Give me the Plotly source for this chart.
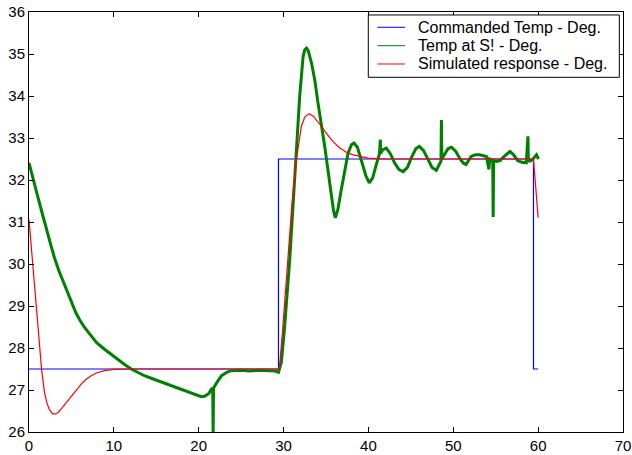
import plotly.graph_objects as go

# Commanded temperature (step profile)
cmd_x = [0, 29.4, 29.4, 59.45, 59.45, 60.0]
cmd_y = [27.5, 27.5, 32.5, 32.5, 27.5, 27.5]

# Measured temperature at S!
meas_x = [0.0, 0.5, 1.0, 1.5, 2.0, 2.6, 3.0, 3.5, 4.2, 5.0, 5.5, 5.95, 6.5, 7.33, 8.0, 8.9,
          9.7, 10.5, 11.3, 12.05, 12.8, 13.6, 14.4, 15.2, 16.0, 16.8, 17.5, 18.3, 19.1,
          19.9, 20.3, 20.7, 21.2, 21.5, 21.65, 21.7, 21.75, 22.2, 22.7, 23.3, 23.8, 25.0, 26.0,
          27.0, 28.0, 29.0, 29.4, 29.74, 30.1, 30.7, 31.3, 31.9, 32.3, 32.5, 32.7, 32.9,
          33.3, 33.7, 34.06, 34.85, 35.6, 35.9, 36.1, 36.4, 36.8, 37.2, 37.6, 38.0, 38.3,
          38.7, 39.2, 39.7, 40.1, 40.5, 40.9, 41.3, 41.4, 41.45, 41.7, 42.1, 42.6, 43.1,
          43.6, 44.1, 44.6, 45.1, 45.6, 46.0, 46.5, 47.0, 47.5, 48.0, 48.3, 48.55, 48.6,
          48.65, 49.0, 49.4, 49.8, 50.3, 50.8, 51.2, 51.5, 52.1, 52.6, 53.1, 53.9, 54.2,
          54.3, 54.65, 54.7, 54.75, 55.1, 55.5, 56.1, 56.7, 57.1, 57.6, 58.1, 58.6, 58.8,
          58.85, 59.1, 59.4, 59.8, 60.05]
meas_y = [32.41, 32.05, 31.63, 31.25, 30.85, 30.43, 30.15, 29.85, 29.5, 29.1, 28.85, 28.68,
          28.5, 28.29, 28.12, 27.97, 27.84, 27.73, 27.6, 27.5, 27.42, 27.34, 27.28, 27.22,
          27.16, 27.1, 27.04, 26.98, 26.92, 26.86, 26.84, 26.85, 26.92, 27.02, 27.0, 26.0,
          27.05, 27.2, 27.34, 27.42, 27.46, 27.47, 27.45, 27.47, 27.46, 27.45, 27.42, 27.66,
          28.45, 30.03, 32.0, 33.99, 34.94, 35.1, 35.14, 35.08, 34.78, 34.35, 33.83, 32.8,
          31.69, 31.25, 31.1, 31.3, 31.77, 32.25, 32.64, 32.84, 32.88, 32.78, 32.45, 32.1,
          31.93, 32.05, 32.35, 32.62, 32.96, 32.64, 32.72, 32.76, 32.62, 32.4, 32.25, 32.2,
          32.3, 32.55, 32.75, 32.8, 32.7, 32.5, 32.3, 32.23, 32.35, 32.45, 33.43, 32.5,
          32.62, 32.75, 32.78, 32.68, 32.5, 32.4, 32.37, 32.56, 32.6, 32.6, 32.56, 32.25,
          32.5, 32.46, 31.12, 32.46, 32.44, 32.46, 32.58, 32.68, 32.6, 32.46, 32.42, 32.41,
          33.04, 32.45, 32.45, 32.5, 32.6, 32.5]

# Simulated response
sim_x = [0.0, 0.3, 0.65, 1.0, 1.24, 1.5, 1.83, 2.1, 2.4, 2.8, 3.1, 3.4, 3.8, 4.4, 5.0,
         5.6, 6.15, 6.7, 7.33, 8.0, 8.9, 10.0, 11.0, 12.0, 20.0, 29.5, 29.9, 30.5, 31.0,
         31.5, 32.1, 32.5, 33.0, 33.5, 34.0, 34.45, 35.1, 35.8, 36.6, 37.4, 38.2, 39.0,
         40.0, 41.0, 42.0, 50.0, 59.45, 60.0]
sim_y = [31.06, 30.3, 29.56, 28.6, 27.97, 27.45, 26.94, 26.7, 26.53, 26.43, 26.43, 26.46,
         26.55, 26.7, 26.86, 27.01, 27.14, 27.25, 27.34, 27.41, 27.46, 27.49, 27.5, 27.5,
         27.5, 27.5, 28.45, 30.03, 31.46, 32.48, 33.28, 33.5, 33.58, 33.52, 33.4, 33.28,
         33.1, 32.92, 32.77, 32.66, 32.6, 32.56, 32.52, 32.51, 32.5, 32.5, 32.5, 31.1]

series_names = ["Commanded Temp - Deg.", "Temp at S! - Deg.", "Simulated response - Deg."]
series_colors = ["#0000FF", "#008000", "#FF0000"]

x_ticks = [0, 10, 20, 30, 40, 50, 60, 70]
y_ticks = [26, 27, 28, 29, 30, 31, 32, 33, 34, 35, 36]

fig = go.Figure()
fig.add_trace(go.Scatter(x=cmd_x, y=cmd_y, mode="lines", name=series_names[0],
                         line=dict(color=series_colors[0], width=1.2), showlegend=False))
fig.add_trace(go.Scatter(x=meas_x, y=meas_y, mode="lines", name=series_names[1],
                         line=dict(color=series_colors[1], width=3), showlegend=False))
fig.add_trace(go.Scatter(x=sim_x, y=sim_y, mode="lines", name=series_names[2],
                         line=dict(color=series_colors[2], width=1.2), showlegend=False))

# Matlab-style legend box (drawn in paper coordinates)
shapes = [dict(type="rect", xref="paper", yref="paper", x0=0.5712, x1=0.9938,
               y0=0.8445, y1=0.9929, line=dict(color="black", width=1),
               fillcolor="white", layer="above")]
annotations = []
row_y = [0.9636, 0.9198, 0.8762]
for name, color, ry in zip(series_names, series_colors, row_y):
    shapes.append(dict(type="line", xref="paper", yref="paper", x0=0.5864, x1=0.6330,
                       y0=ry, y1=ry, line=dict(color=color, width=1), layer="above"))
    annotations.append(dict(xref="paper", yref="paper", x=0.6515, y=ry, text=name,
                            showarrow=False, xanchor="left", yanchor="middle",
                            font=dict(family="Liberation Sans, Arial", size=16, color="black")))

axis_common = dict(showline=True, linecolor="black", linewidth=1, mirror="ticks",
                   ticks="inside", ticklen=5, tickcolor="black", showgrid=False,
                   zeroline=False, automargin=False,
                   tickfont=dict(family="Liberation Sans, Arial", size=15, color="black"))

fig.update_layout(
    width=632, height=455,
    margin=dict(l=29, r=9, t=12, b=23, pad=0),
    paper_bgcolor="white", plot_bgcolor="white",
    font=dict(family="Liberation Sans, Arial", color="black"),
    xaxis=dict(range=[0, 70], tickvals=x_ticks, ticktext=[str(v) for v in x_ticks], **axis_common),
    yaxis=dict(range=[26, 36], tickvals=y_ticks, ticktext=[str(v) for v in y_ticks], **axis_common),
    shapes=shapes,
    annotations=annotations,
    showlegend=False,
)

fig.write_html("out.html", config={"displayModeBar": False},
               post_script="document.body.style.margin='0';")
